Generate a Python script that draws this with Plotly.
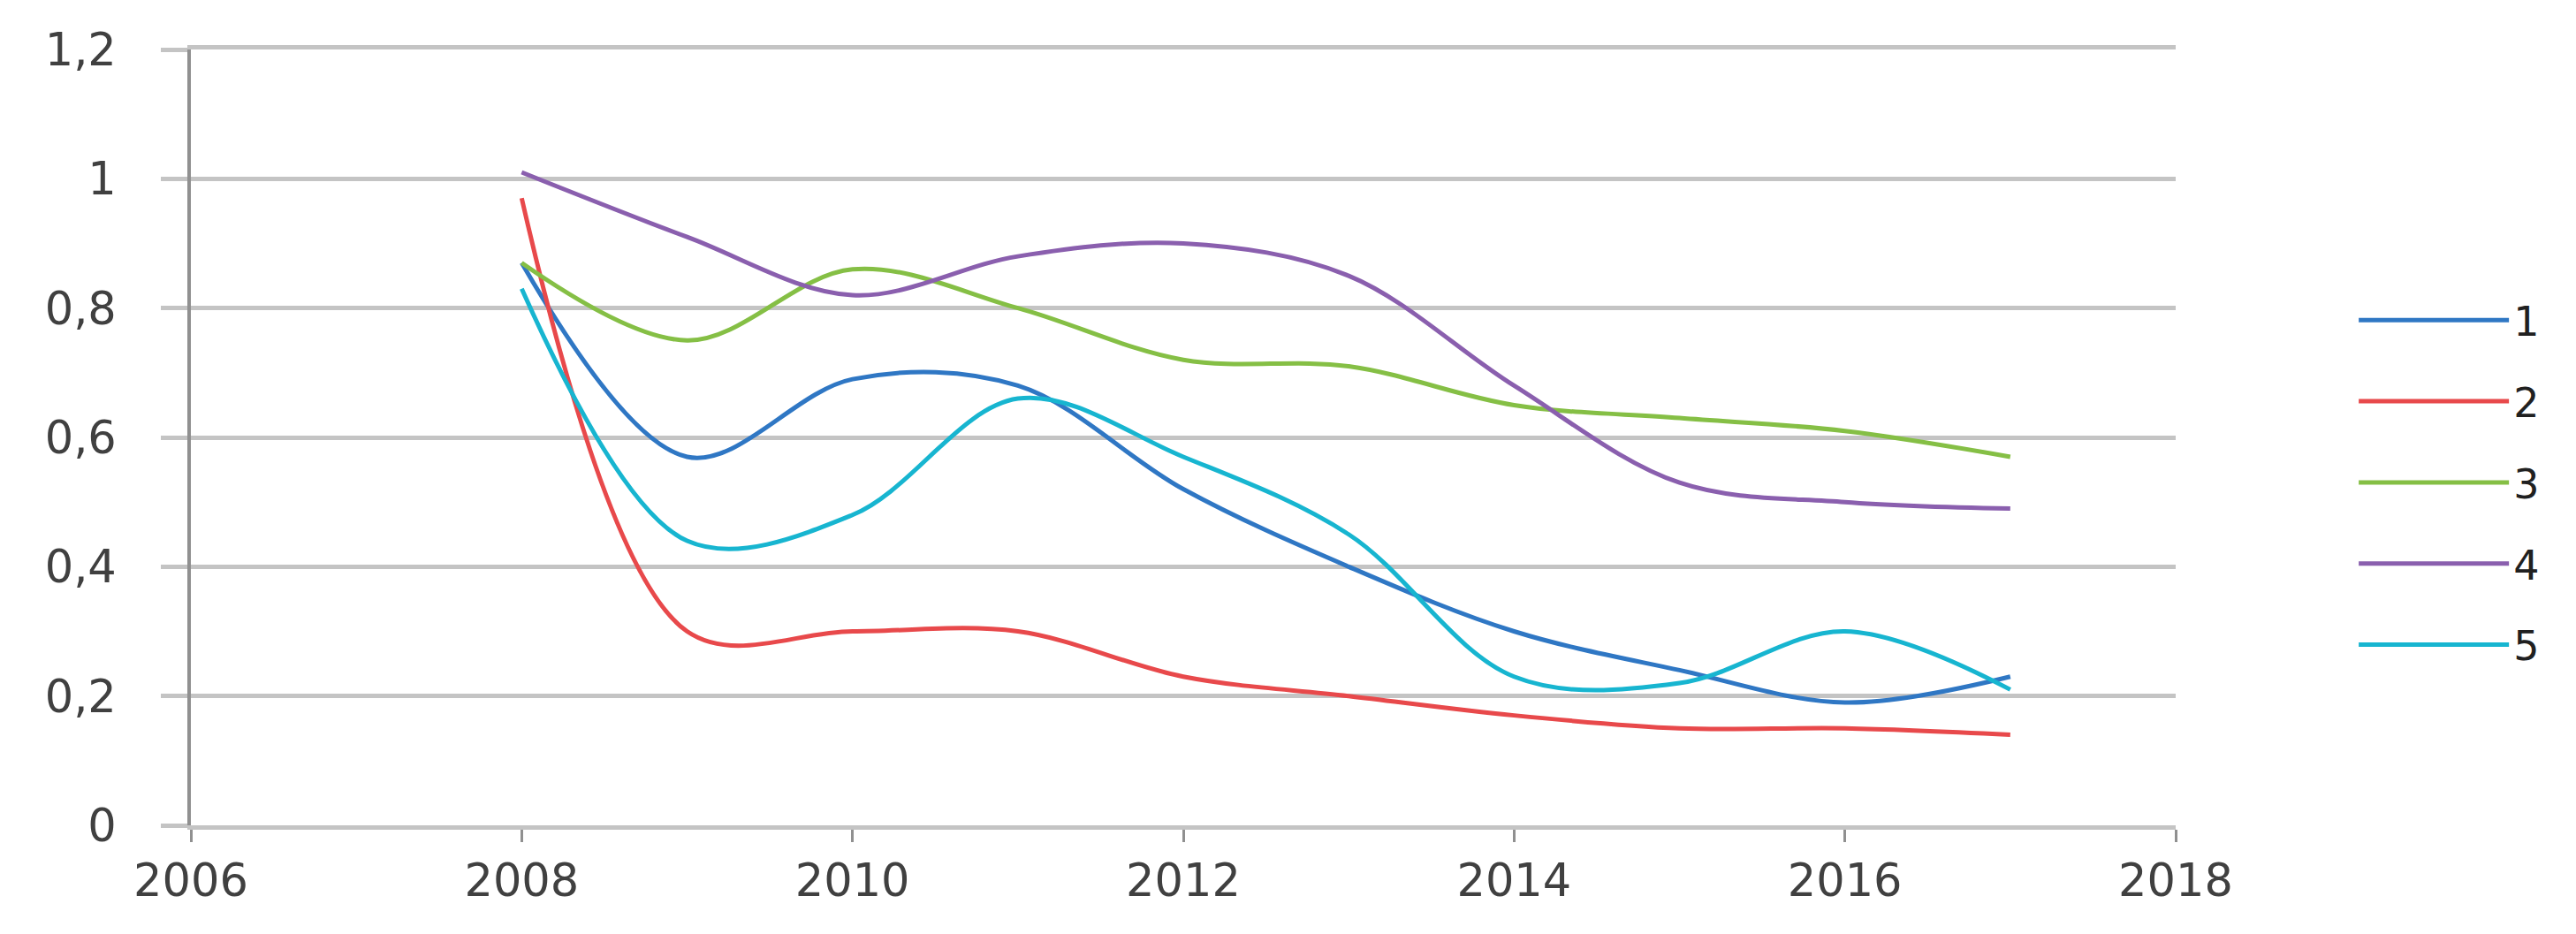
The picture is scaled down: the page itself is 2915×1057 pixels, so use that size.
import plotly.graph_objects as go

years = [2008, 2009, 2010, 2011, 2012, 2013, 2014, 2015, 2016, 2017]
series_names = ["1", "2", "3", "4", "5"]
s1 = [0.87, 0.57, 0.69, 0.68, 0.52, 0.40, 0.30, 0.24, 0.19, 0.23]
s2 = [0.97, 0.30, 0.30, 0.30, 0.23, 0.20, 0.17, 0.15, 0.15, 0.14]
s3 = [0.87, 0.75, 0.86, 0.80, 0.72, 0.71, 0.65, 0.63, 0.61, 0.57]
s4 = [1.01, 0.91, 0.82, 0.88, 0.90, 0.85, 0.68, 0.53, 0.50, 0.49]
s5 = [0.83, 0.44, 0.48, 0.66, 0.57, 0.45, 0.23, 0.22, 0.30, 0.21]
colors = ["#2f77c4", "#e8494b", "#85bf45", "#8a5fae", "#17b5d0"]

x_ticks = [2006, 2008, 2010, 2012, 2014, 2016, 2018]
y_ticks = [0, 0.2, 0.4, 0.6, 0.8, 1.0, 1.2]
y_labels = ["0", "0,2", "0,4", "0,6", "0,8", "1", "1,2"]

fig = go.Figure()
for name, vals, col in zip(series_names, [s1, s2, s3, s4, s5], colors):
    fig.add_trace(go.Scatter(
        x=years, y=vals, name=name, mode="lines", legendgroup=name,
        line=dict(color=col, width=5, shape="spline", smoothing=1.0),
    ))

font = dict(family="DejaVu Sans", size=51, color="#404040")
fig.update_layout(
    width=2915, height=1057,
    margin=dict(l=208, r=461, t=48, b=131),
    paper_bgcolor="white", plot_bgcolor="white",
    showlegend=True,
    legend=dict(
        x=1.09, y=0.442, xanchor="left", yanchor="middle",
        font=dict(family="DejaVu Sans", size=46, color="#202020"),
        itemwidth=170, tracegroupgap=29, bgcolor="rgba(0,0,0,0)",
    ),
    xaxis=dict(
        range=[2006, 2018], tickvals=x_ticks, ticktext=[str(v) for v in x_ticks],
        showgrid=False, zeroline=False, showline=True, linecolor="#c4c4c4", linewidth=5,
        mirror=True,
        ticks="outside", ticklen=14, tickwidth=3, tickcolor="#909090",
        tickfont=font, ticklabelstandoff=0,
    ),
    yaxis=dict(
        range=[0, 1.2], tickvals=y_ticks, ticktext=y_labels,
        showgrid=True, gridcolor="#c4c4c4", gridwidth=5, zeroline=False,
        showline=True, linecolor="#909090", linewidth=4,
        ticks="outside", ticklen=30, tickwidth=5, tickcolor="#c4c4c4",
        tickfont=font, ticklabelstandoff=40,
    ),
)
fig.write_html("out.html")
